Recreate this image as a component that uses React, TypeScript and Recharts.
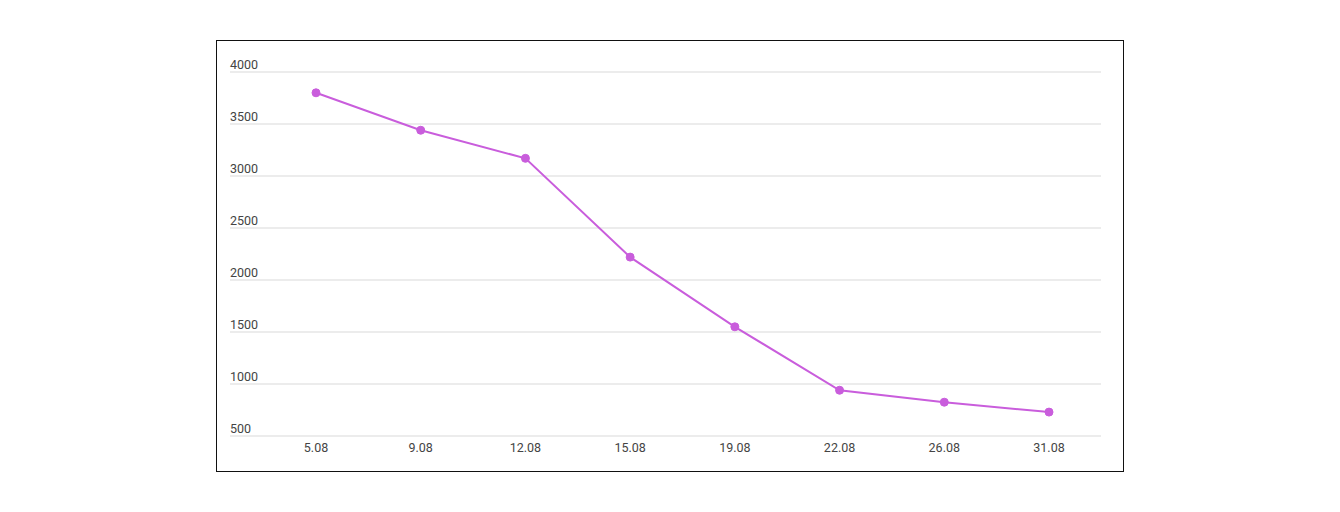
import { CartesianGrid, Line, LineChart, XAxis, YAxis } from "recharts";

const DATES = ["5.08", "9.08", "12.08", "15.08", "19.08", "22.08", "26.08", "31.08"];
const VALUES = [3800, 3440, 3170, 2220, 1550, 940, 825, 730];
const Y_TICKS = [500, 1000, 1500, 2000, 2500, 3000, 3500, 4000];

const LINE_COLOR = "#c95ddc";

const chartData = DATES.map((date, i) => ({ date, value: VALUES[i] }));

// y labels sit left-aligned at the start of the gridlines, just above them
const YTick = (props: any) => (
  <text x={13} y={props.y} dy={-3} textAnchor="start" fill="#444" fontSize={12.5}>
    {props.payload.value}
  </text>
);

export default function App() {
  return (
    <div
      style={{
        marginLeft: 208,
        marginTop: 32,
        width: 908,
        height: 432,
        border: "1px solid #111",
        boxSizing: "border-box",
        fontFamily: "Roboto, sans-serif",
        background: "#fff",
      }}
    >
      <LineChart
        width={906}
        height={430}
        data={chartData}
        margin={{ top: 31, right: 22, bottom: 5, left: 0 }}
      >
        <CartesianGrid vertical={false} stroke="#d9d9d9" />
        <XAxis
          dataKey="date"
          axisLine={false}
          tickLine={false}
          tickSize={0}
          tickMargin={7}
          height={30}
          padding={{ left: 86, right: 52 }}
          tick={{ fill: "#444", fontSize: 12.5 }}
        />
        <YAxis
          width={13}
          domain={[500, 4000]}
          ticks={Y_TICKS}
          interval={0}
          axisLine={false}
          tickLine={false}
          tick={YTick}
        />
        <Line
          type="linear"
          dataKey="value"
          stroke={LINE_COLOR}
          strokeWidth={2}
          dot={{ r: 4, fill: LINE_COLOR, stroke: LINE_COLOR, strokeWidth: 1 }}
          activeDot={false}
          isAnimationActive={false}
        />
      </LineChart>
    </div>
  );
}
